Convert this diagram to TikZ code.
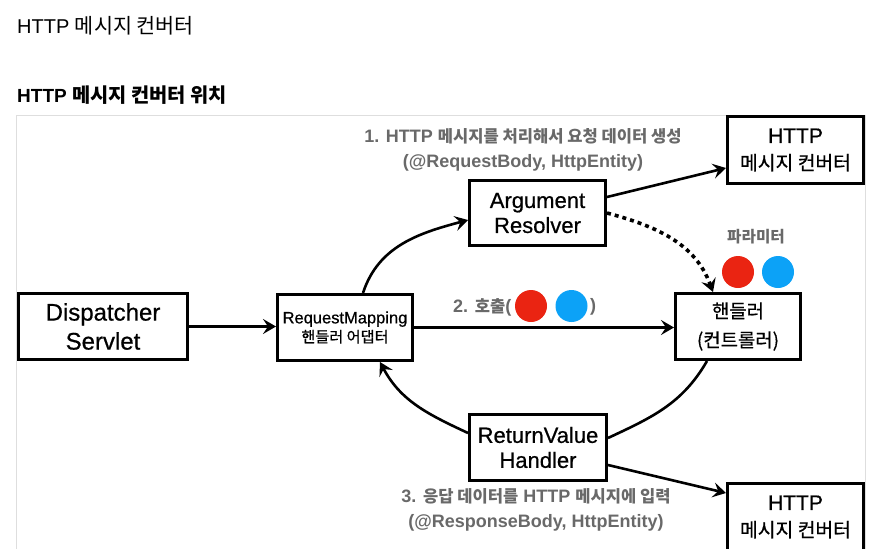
\documentclass[tikz,border=0pt]{standalone}
\usepackage{fontspec}
\setmainfont{Liberation Sans}
\newfontfamily\kr{Noto Sans CJK KR}[Scale=0.92]
\newcommand\heavier{\addfontfeatures{FakeBold=0.6}}
\usetikzlibrary{arrows.meta}
\definecolor{lblgray}{RGB}{105,105,105}
\definecolor{dotred}{RGB}{234,36,18}
\definecolor{dotblue}{RGB}{12,162,247}
\definecolor{framegray}{RGB}{222,222,222}
\begin{document}
\begin{tikzpicture}[x=1pt,y=1pt,
 box/.style={draw=black, line width=3pt, fill=white, inner sep=0pt, align=center},
 conn/.style={line width=2.6pt, draw=black},
 tip/.style={-{Stealth[length=13pt,width=15pt,inset=5pt]}},
 lbl/.style={text=lblgray, font=\bfseries\fontsize{18}{25}\selectfont, align=center, inner sep=0pt},
 pdot/.style={circle, inner sep=0pt, minimum size=32pt},
]
\useasboundingbox (0,0) rectangle (876,-549);
\begin{scope}
\clip (0,0) rectangle (876,-549);
% headings
\node[anchor=base west, inner sep=0pt, font=\fontsize{20}{24}\selectfont] (title) at (17,-33) {HTTP {\kr\fontsize{22.5}{24}\selectfont 메시지 컨버터}};
\node[anchor=base west, inner sep=0pt, font=\bfseries\fontsize{19}{23}\selectfont] (sub) at (17,-102) {HTTP {\kr\fontsize{21.5}{23}\selectfont 메시지 컨버터 위치}};
% frame
\draw[framegray, line width=1.5pt] (16.5,-560) -- (16.5,-115.5) -- (865.5,-115.5) -- (865.5,-560);

% boxes
\node[box, minimum width=169pt, minimum height=66pt, font=\fontsize{24}{29}\selectfont\heavier] (ds) at (103,-326.5) {Dispatcher\\Servlet};
\node[box, minimum width=135pt, minimum height=66pt, font=\fontsize{16.5}{19}\selectfont\heavier] (rm) at (345,-327.5) {RequestMapping\\{\kr\heavier 핸들러 어댑터}};
\node[box, minimum width=136pt, minimum height=65pt, font=\fontsize{22}{25}\selectfont\heavier] (ar) at (537.5,-213) {Argument\\Resolver};
\node[box, minimum width=137pt, minimum height=66pt, font=\fontsize{22}{25}\selectfont\heavier] (rv) at (538,-447.5) {ReturnValue\\Handler};
\node[box, minimum width=125pt, minimum height=66pt, font=\fontsize{20.5}{29}\selectfont] (hd) at (738,-326.5) {{\kr\heavier 핸들러}\\{\kr\heavier (컨트롤러)}};
\node[box, minimum width=136pt, minimum height=67pt, font=\fontsize{21}{27}\selectfont\heavier] (ht1) at (795.5,-150) {HTTP\\{\kr\heavier 메시지 컨버터}};
\node[box, minimum width=136pt, minimum height=67pt, font=\fontsize{21}{27}\selectfont\heavier] (ht2) at (795.5,-517) {HTTP\\{\kr\heavier 메시지 컨버터}};

% labels
\node[lbl] (l1) at (523,-149.5) {1. HTTP {\kr 메시지를 처리해서 요청 데이터 생성}\\(@RequestBody, HttpEntity)};
\node[lbl] (l3) at (536,-510) {3. {\kr 응답 데이터를} HTTP {\kr 메시지에 입력}\\(@ResponseBody, HttpEntity)};
\node[lbl, font=\bfseries\fontsize{17}{20}\selectfont] (param) at (756,-237) {\kr 파라미터};
\node[pdot, fill=dotred] (pr) at (738,-272) {};
\node[pdot, fill=dotblue] (pb) at (778,-272) {};
\node[lbl, anchor=west] (l2) at (453,-307) {2. {\kr 호출}(};
\node[pdot, fill=dotred] (cr) at (531,-306) {};
\node[pdot, fill=dotblue] (cb) at (571.5,-306) {};
\node[lbl, anchor=west] (l2b) at (590,-307) {)};

% connectors
\draw[conn,tip] (ds.east) -- (ds.east -| rm.west);
\draw[conn,tip] (rm.east) -- (rm.east -| hd.west);
\draw[conn,tip] ([xshift=18pt]rm.north) to[out=72,in=195] ([yshift=-7pt]ar.west);
\draw[conn,tip] ([yshift=16pt]ar.east) -- ([yshift=-18pt]ht1.west);
\draw[line width=3.6pt, dash pattern=on 4pt off 4pt, -{Stealth[length=13pt,width=15pt,inset=5pt]}] (ar.east) to[out=-15,in=110] ([xshift=-25pt]hd.north);
\draw[conn] ([xshift=-31pt]hd.south) to[out=-120,in=25] ([yshift=9.5pt]rv.east);
\draw[conn,tip] ([yshift=14.5pt]rv.west) to[out=155,in=-62] ([xshift=35pt]rm.south);
\draw[conn,tip] ([yshift=-17.5pt]rv.east) -- ([yshift=24pt]ht2.west);
\end{scope}
\end{tikzpicture}
\end{document}
